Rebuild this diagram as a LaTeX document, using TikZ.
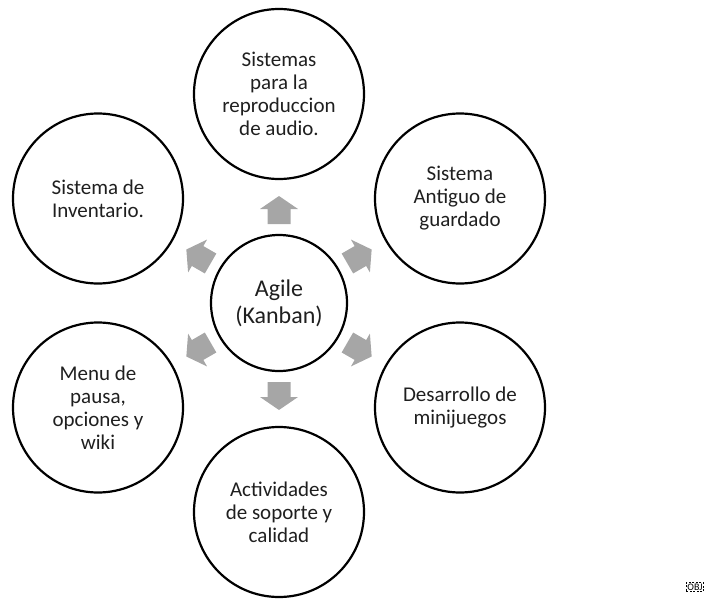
\documentclass[tikz,border=0pt]{standalone}
\usepackage{fontspec}
\setmainfont{Carlito}
\usetikzlibrary{calc}
\begin{document}
\begin{tikzpicture}[x=1pt,y=1pt,
  topic/.style={circle, draw=black, line width=2.2pt, minimum size=170pt, inner sep=0pt, align=center, font=\fontsize{21}{23}\selectfont, text=black!88},
  hub/.style={circle, draw=black, line width=2.2pt, minimum size=136pt, inner sep=0pt, align=center, font=\fontsize{24}{27}\selectfont, text=black!88},
  arrowfill/.style={fill=black!35},
  objmark/.style={draw=black, dash pattern=on 2pt off 1.5pt, line width=0.5pt, inner sep=1pt, font=\fontsize{10}{11}\selectfont}]
\useasboundingbox (0,0) rectangle (713,-600);
\node[hub] (c) at (279,-303) {Agile\\(Kanban)};
\node[topic] (t1) at ($(c)+(90:209)$) {Sistemas\\para la\\reproduccion\\de audio.};
\node[topic] (t2) at ($(c)+(30:209)$) {Sistema\\Antiguo de\\guardado};
\node[topic] (t3) at ($(c)+(-30:209)$) {Desarrollo de\\minijuegos};
\node[topic] (t4) at ($(c)+(-90:209)$) {Actividades\\de soporte y\\calidad};
\node[topic] (t5) at ($(c)+(-150:209)$) {Menu de\\pausa,\\opciones y\\wiki};
\node[topic] (t6) at ($(c)+(150:209)$) {Sistema de\\Inventario.};
\foreach \a in {90,30,-30,-90,-150,150}
  \fill[arrowfill, shift={(c)}, rotate=\a] (79,-11.5) -- (94,-11.5) -- (94,-19) -- (107,0) -- (94,19) -- (94,11.5) -- (79,11.5) -- cycle;
\node[objmark] (obj) at (695,-587) {OBJ};
\end{tikzpicture}
\end{document}
